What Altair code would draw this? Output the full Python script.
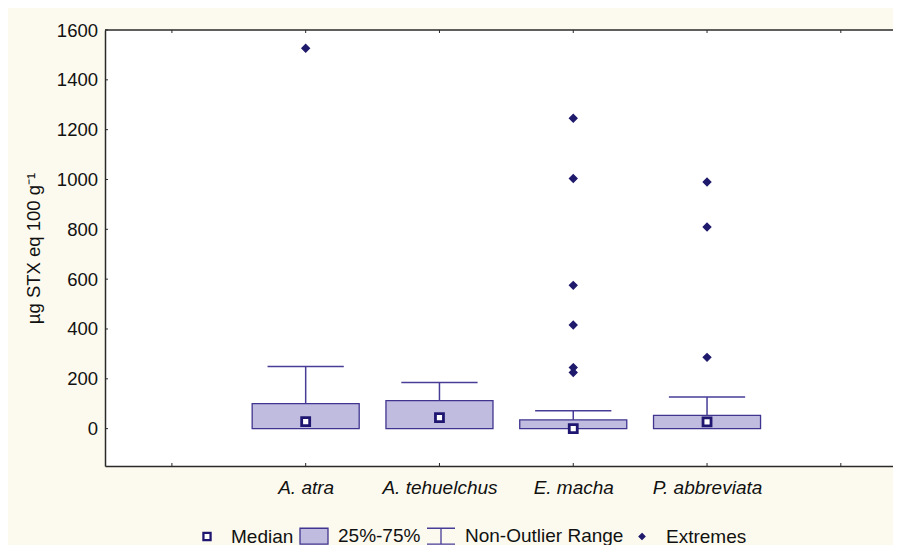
import json
import altair as alt
import pandas as pd

# ---------------- data ----------------
species = ["A. atra", "A. tehuelchus", "E. macha", "P. abbreviata"]
q1 = [0, 0, 0, 0]
q3 = [100, 112, 35, 53]
medians = [28, 44, 0, 27]
upper = [249, 185, 72, 127]

ext_species = ["A. atra", "E. macha", "E. macha", "E. macha", "E. macha", "E. macha",
               "E. macha", "P. abbreviata", "P. abbreviata", "P. abbreviata"]
ext_values = [1527, 1246, 1004, 575, 416, 245, 225, 990, 809, 286]

y_ticks = [0, 200, 400, 600, 800, 1000, 1200, 1400, 1600]
x_ticks = [0, 1, 2, 3, 4, 5]
legend_items = ["Median", "25%-75%", "Non-Outlier Range", "Extremes"]

# ---------------- styles ----------------
FONT = "Liberation Sans"
BOX_FILL = "#C0BCDF"
BOX_STROKE = "#3F3590"
WHISKER = "#473D97"
MEDIAN = "#1E1670"
EXTREME = "#1F1A6C"
AXIS = "#2A2A2A"
W, H = 788, 436

pos_of = {s: i + 1 for i, s in enumerate(species)}
box_df = pd.DataFrame({"species": species, "pos": [pos_of[s] for s in species],
                       "q1": q1, "q3": q3, "median": medians, "upper": upper})
ext_df = pd.DataFrame({"species": ext_species, "pos": [pos_of[s] for s in ext_species],
                       "value": ext_values, "kind": ["Extremes"] * len(ext_values)})
yt_df = pd.DataFrame({"v": y_ticks})
xt_df = pd.DataFrame({"pos": x_ticks})
one_df = pd.DataFrame({"a": [0]})

label_expr = json.dumps(species) + "[datum.value - 1]"

xscale = alt.Scale(domain=[-0.5, 5.39], nice=False, zero=False)
yscale = alt.Scale(domain=[-150, 1600], nice=False, zero=False)


def X(field):
    return alt.X(field, type="quantitative", scale=xscale, title=None,
                 axis=alt.Axis(values=[1, 2, 3, 4], labelExpr=label_expr, ticks=False,
                               grid=False, labelFont=FONT, labelFontSize=19,
                               labelFontStyle="italic", labelColor="#111111",
                               labelPadding=12, domainColor=AXIS, domainWidth=1.5))


def Y(field):
    return alt.Y(field, type="quantitative", scale=yscale, title="µg STX eq 100 g⁻¹",
                 axis=alt.Axis(values=y_ticks, format="d", ticks=False, grid=False,
                               labelFont=FONT, labelFontSize=18.5, labelColor="#111111",
                               labelPadding=7.5, domainColor=AXIS, domainWidth=1.5,
                               titleFont=FONT, titleFontSize=18.5, titleFontWeight="normal",
                               titleColor="#111111", titlePadding=13))


base = alt.Chart(box_df)

whisker = base.mark_rule(color=WHISKER, strokeWidth=1.5).encode(
    x=X("pos"), y=Y("q3"), y2="upper:Q")

cap = base.transform_calculate(
    xl="datum.pos - 0.285", xr="datum.pos + 0.285"
).mark_rule(color=WHISKER, strokeWidth=1.5).encode(
    x=X("xl"), x2="xr:Q", y=Y("upper"))

box = base.transform_calculate(
    bl="datum.pos - 0.4", br="datum.pos + 0.4"
).mark_rect(fill=BOX_FILL, stroke=BOX_STROKE, strokeWidth=1.3).encode(
    x=X("bl"), x2="br:Q", y=Y("q1"), y2="q3:Q")

median = base.mark_point(shape="square", size=64, filled=True, fill="white",
                         stroke=MEDIAN, strokeWidth=2.8, opacity=1).encode(
    x=X("pos"), y=Y("median"))

# legend symbol shapes (unit paths)
shape_range = [
    "M-0.29,-0.29H0.29V0.29H-0.29ZM-0.22,-0.22H0.22V0.22H-0.22Z",
    "M-1,-0.57H1V0.57H-1Z",
    "M-1,-0.57H1M0,-0.57V0.57M-1,0.57H1",
    "M0,-0.21L0.21,0L0,0.21L-0.21,0Z",
]
fill_range = ["white", BOX_FILL, "transparent", EXTREME]
stroke_range = [MEDIAN, BOX_STROKE, WHISKER, EXTREME]

leg = alt.Legend(title=None, orient="none", legendX=87, legendY=491,
                 direction="horizontal", columns=4, labelFont=FONT, labelFontSize=19,
                 labelColor="#111111", labelOffset=9, columnPadding=3,
                 symbolSize=784, symbolStrokeWidth=1.3)

extremes = alt.Chart(ext_df).mark_point(filled=True, opacity=1, size=1300,
                                        strokeWidth=1.3).encode(
    x=X("pos"), y=Y("value"),
    shape=alt.Shape("kind:N", scale=alt.Scale(domain=legend_items, range=shape_range), legend=leg),
    fill=alt.Fill("kind:N", scale=alt.Scale(domain=legend_items, range=fill_range), legend=leg),
    stroke=alt.Stroke("kind:N", scale=alt.Scale(domain=legend_items, range=stroke_range), legend=leg),
)

# frame top line and inward tick marks
top_line = alt.Chart(one_df).mark_rule(color=AXIS, strokeWidth=1.5).encode(
    x=alt.value(0), x2=alt.value(W), y=alt.value(0))
yt = alt.Chart(yt_df).mark_rule(color=AXIS, strokeWidth=1).encode(
    y=Y("v"), x=alt.value(0), x2=alt.value(3))
xt_bottom = alt.Chart(xt_df).mark_rule(color=AXIS, strokeWidth=1).encode(
    x=X("pos"), y=alt.value(H), y2=alt.value(H - 3))
xt_top = alt.Chart(xt_df).mark_rule(color=AXIS, strokeWidth=1).encode(
    x=X("pos"), y=alt.value(0), y2=alt.value(3))

chart = alt.layer(box, whisker, cap, median, extremes, top_line, yt, xt_bottom, xt_top).properties(
    width=W, height=H,
    autosize=alt.AutoSizeParams(type="none"),
    padding={"left": 97, "top": 22, "right": 0, "bottom": 79},
    background="#FCFAEE",
).configure_view(fill="white", strokeWidth=0)

chart.save("out.html", embed_options={"renderer": "svg", "actions": False})
